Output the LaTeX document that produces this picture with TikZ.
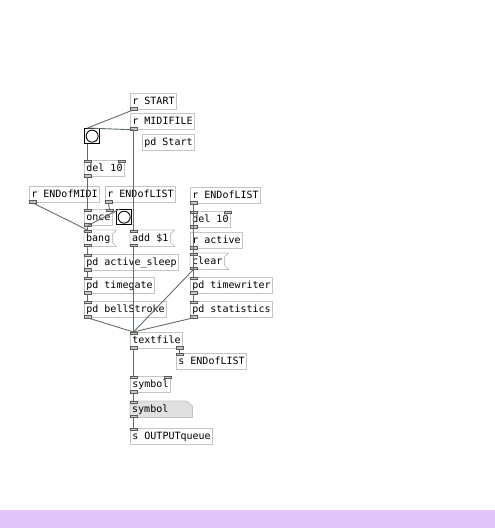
\documentclass[tikz,border=0pt]{standalone}
\usepackage{fontspec}
\newfontfamily\pdfont{DejaVu Sans Mono}
\usetikzlibrary{backgrounds}

\definecolor{boxgray}{RGB}{196,196,196}
\definecolor{portgray}{RGB}{90,90,90}
\definecolor{wiregreen}{RGB}{96,112,96}
\definecolor{atomgray}{RGB}{224,224,224}
\definecolor{barlilac}{RGB}{225,196,250}

\tikzset{
  pdbox/.style={anchor=north west, inner xsep=2pt, inner ysep=0pt, minimum height=16pt,
    text height=8pt, text depth=2pt, font=\pdfont\fontsize{10}{12}\selectfont},
  pdobj/.style={pdbox, draw=boxgray, line width=0.8pt},
  pdmsg/.style={pdbox},
  pdatom/.style={pdbox, minimum width=62pt, text width=58pt, align=left},
  pdbng/.style={anchor=north west, draw=black, line width=1.3pt, minimum size=15pt, inner sep=0pt, fill=white},
  pdport/.style={draw=portgray, fill=gray!45, line width=0.5pt},
  pdwire/.style={draw=wiregreen, line width=0.9pt},
}

\newcommand\inL[1]{\draw[pdport] (#1.north west) rectangle ++(7pt,-2.5pt);}
\newcommand\inR[1]{\draw[pdport] (#1.north east) rectangle ++(-7pt,-2.5pt);}
\newcommand\outL[1]{\draw[pdport] (#1.south west) rectangle ++(7pt,2.5pt);}
\newcommand\outR[1]{\draw[pdport] (#1.south east) rectangle ++(-7pt,2.5pt);}
\newcommand\wire[2]{\draw[pdwire] ([xshift=3.5pt]#1.south west) -- ([xshift=3.5pt]#2.north west);}
\newcommand\msgframe[1]{\draw[boxgray, line width=0.8pt] (#1.north west) -- ([xshift=4pt]#1.north east)
  -- ([yshift=-4pt]#1.north east) -- ([yshift=4pt]#1.south east) -- ([xshift=4pt]#1.south east)
  -- (#1.south west) -- cycle;}

\begin{document}
\begin{tikzpicture}[x=1pt,y=-1pt]

    \useasboundingbox (0,0) rectangle (495,528);
    \fill[barlilac] (0,510) rectangle (495,528);

    % left column
    \node[pdobj] (rstart) at (130,93) {r START};
    \node[pdobj] (rmidi) at (130,113) {r MIDIFILE};
    \node[pdobj] (pdstart) at (142,134) {pd Start};
    \node[pdbng] (bngA) at (84,128) {};
    \node[pdobj] (delA) at (84,160) {del 10};
    \node[pdobj] (rendmidi) at (29,186) {r ENDofMIDI};
    \node[pdobj] (rendlistA) at (105,186) {r ENDofLIST};
    \node[pdobj] (once) at (84,209) {once};
    \node[pdbng] (bngB) at (116,209) {};
    \node[pdmsg] (bangmsg) at (84,230) {bang};
    \node[pdmsg] (addmsg) at (130,230) {add \$1};
    \node[pdobj] (sleep) at (84,254) {pd active\_sleep};
    \node[pdobj] (timegate) at (84,277) {pd timegate};
    \node[pdobj] (bell) at (84,301) {pd bellStroke};

    % right column
    \node[pdobj] (rendlistB) at (190,187) {r ENDofLIST};
    \node[pdobj] (delB) at (190,211) {del 10};
    \node[pdobj] (ractive) at (190,232) {r active};
    \node[pdmsg] (clearmsg) at (190,253) {clear};
    \node[pdobj] (writer) at (190,277) {pd timewriter};
    \node[pdobj] (stats) at (190,301) {pd statistics};

    % output
    \node[pdobj] (textfile) at (130,332) {textfile};
    \node[pdobj] (sendlist) at (176,353) {s ENDofLIST};
    \node[pdobj] (symobj) at (130,376) {symbol};
    \node[pdatom] (symatom) at (130,401) {symbol};
    \node[pdobj] (sendout) at (130,428) {s OUTPUTqueue};

    \begin{scope}[on background layer]
        \filldraw[fill=atomgray, draw=boxgray, line width=0.8pt] (symatom.north west)
            -- ([xshift=-6pt]symatom.north east) -- ([yshift=-5pt]symatom.north east)
            -- (symatom.south east) -- (symatom.south west) -- cycle;
    \end{scope}

    \msgframe{bangmsg}
    \msgframe{addmsg}
    \msgframe{clearmsg}

    \draw[line width=0.9pt] (bngA.center) circle (6pt);
    \draw[line width=0.9pt] (bngB.center) circle (6pt);

    % inlets and outlets
    \outL{rstart} \outL{rmidi}
    \inL{delA} \inR{delA} \outL{delA}
    \outL{rendmidi} \outL{rendlistA}
    \inL{once} \inR{once} \outL{once}
    \inL{bangmsg} \outL{bangmsg}
    \inL{addmsg} \outL{addmsg}
    \inL{sleep} \outL{sleep}
    \inL{timegate} \outL{timegate}
    \inL{bell} \outL{bell}
    \outL{rendlistB}
    \inL{delB} \inR{delB} \outL{delB}
    \outL{ractive}
    \inL{clearmsg} \outL{clearmsg}
    \inL{writer} \outL{writer}
    \inL{stats} \outL{stats}
    \inL{textfile} \outL{textfile} \outR{textfile}
    \inL{sendlist}
    \inL{symobj} \inR{symobj} \outL{symobj}
    \inL{symatom} \outL{symatom}
    \inL{sendout}

    % connections
    \wire{rstart}{bngA}
    \wire{rmidi}{bngA}
    \wire{rmidi}{addmsg}
    \wire{bngA}{delA}
    \wire{delA}{once}
    \draw[pdwire] ([xshift=3.5pt]rendlistA.south west) -- ([xshift=-3.5pt]once.north east);
    \wire{rendmidi}{bangmsg}
    \wire{once}{bngB}
    \wire{once}{bangmsg}
    \wire{bangmsg}{sleep}
    \wire{sleep}{timegate}
    \wire{timegate}{bell}
    \wire{bell}{textfile}
    \wire{addmsg}{textfile}
    \wire{clearmsg}{textfile}
    \wire{stats}{textfile}

    \wire{rendlistB}{delB}
    \wire{rendlistB}{clearmsg}
    \wire{delB}{writer}
    \wire{writer}{stats}

    \wire{textfile}{symobj}
    \draw[pdwire] ([xshift=-3.5pt]textfile.south east) -- ([xshift=3.5pt]sendlist.north west);
    \wire{symobj}{symatom}
    \wire{symatom}{sendout}

\end{tikzpicture}
\end{document}
